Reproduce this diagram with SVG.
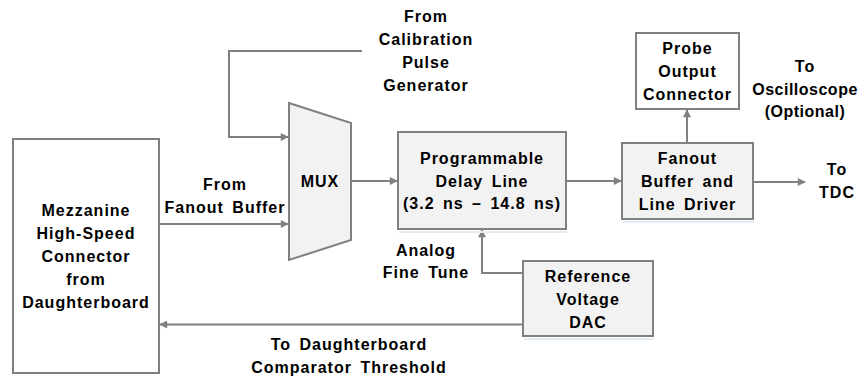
<svg xmlns="http://www.w3.org/2000/svg" width="860" height="379" viewBox="0 0 860 379">
<style>
.box{stroke:#808080;stroke-width:2;fill:#f2f2f2}
.wbox{stroke:#808080;stroke-width:2;fill:#ffffff}
.sh{fill:#e3ebf5}
.ln{stroke:#808080;stroke-width:2;fill:none}
text{font-family:"Liberation Sans",Arial,sans-serif;font-weight:bold;font-size:16px;letter-spacing:1px;fill:#000;text-anchor:middle}
.ws{word-spacing:3px}
.tight{letter-spacing:0.5px}
</style>
<defs>
<marker id="ah" viewBox="0 0 10 10" refX="9" refY="5" markerWidth="9" markerHeight="8" markerUnits="userSpaceOnUse" orient="auto">
<path d="M0,0 L10,5 L0,10 Z" fill="#808080"/>
</marker>
</defs>
<rect width="860" height="379" fill="#ffffff"/>
<g id="connectors">
<polyline class="ln" points="362,51 229,51 229,137 288,137" marker-end="url(#ah)"/>
<line class="ln" x1="159" y1="224" x2="288" y2="224" marker-end="url(#ah)"/>
<line class="ln" x1="351" y1="181" x2="397" y2="181" marker-end="url(#ah)"/>
<line class="ln" x1="566" y1="181" x2="621" y2="181" marker-end="url(#ah)"/>
<line class="ln" x1="753" y1="182" x2="805" y2="182" marker-end="url(#ah)"/>
<line class="ln" x1="687" y1="143" x2="687" y2="110" marker-end="url(#ah)"/>
<polyline class="ln" points="523,273 482,273 482,230" marker-end="url(#ah)"/>
<line class="ln" x1="523" y1="324.5" x2="160" y2="324.5" marker-end="url(#ah)"/>
</g>
<g id="mezzanine">
<rect class="wbox" x="13" y="139" width="146" height="234"/>
<text x="86" y="216">Mezzanine</text>
<text x="86" y="239">High-Speed</text>
<text x="86" y="262">Connector</text>
<text x="86" y="285">from</text>
<text x="86" y="308">Daughterboard</text>
</g>
<g id="mux">
<polygon class="box" points="289,103 351,123 351,240 289,260"/>
<text x="320" y="187">MUX</text>
</g>
<g id="delay">
<rect class="sh" x="399" y="231" width="168" height="2"/>
<rect class="box" x="398" y="132" width="168" height="97"/>
<text x="482" y="164">Programmable</text>
<text x="482" y="187" class="ws">Delay Line</text>
<text x="482" y="209" class="ws">(3.2 ns – 14.8 ns)</text>
</g>
<g id="fanout">
<rect class="sh" x="623" y="221" width="131" height="2"/>
<rect class="box" x="622" y="143" width="131" height="76"/>
<text x="687.5" y="164">Fanout</text>
<text x="687.5" y="187" class="ws">Buffer and</text>
<text x="687.5" y="210" class="ws">Line Driver</text>
</g>
<g id="probe">
<rect class="wbox" x="636" y="33" width="103" height="76"/>
<text x="687.5" y="54">Probe</text>
<text x="687.5" y="77">Output</text>
<text x="687.5" y="100">Connector</text>
</g>
<g id="dac">
<rect class="sh" x="524" y="338" width="130" height="2"/>
<rect class="box" x="523" y="261" width="130" height="75"/>
<text x="588" y="282">Reference</text>
<text x="588" y="305">Voltage</text>
<text x="588" y="328">DAC</text>
</g>
<g id="labels">
<text x="426" y="22">From</text>
<text x="426" y="45">Calibration</text>
<text x="426" y="68">Pulse</text>
<text x="426" y="91">Generator</text>
<text x="225" y="190">From</text>
<text x="225" y="213" class="ws">Fanout Buffer</text>
<text x="426" y="256">Analog</text>
<text x="426" y="278" class="ws">Fine Tune</text>
<text x="349" y="350" class="ws">To Daughterboard</text>
<text x="349" y="373" class="ws">Comparator Threshold</text>
<text x="805" y="72">To</text>
<text x="805" y="95" class="tight">Oscilloscope</text>
<text x="805" y="117" class="tight">(Optional)</text>
<text x="837" y="175">To</text>
<text x="837" y="198">TDC</text>
</g>
</svg>
